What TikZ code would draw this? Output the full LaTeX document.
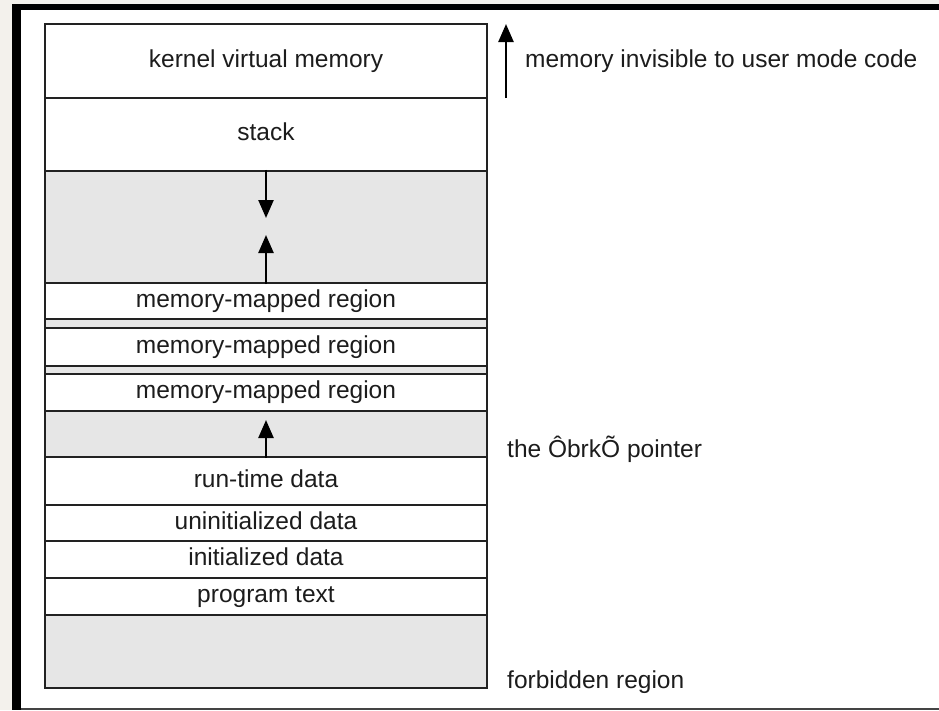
\documentclass[tikz,border=0pt]{standalone}
\usepackage{fontspec}
\setmainfont{Liberation Sans}
\usetikzlibrary{arrows.meta}
\definecolor{pagebg}{HTML}{F3F1EC}
\definecolor{regiongray}{HTML}{E6E6E6}
\definecolor{linegray}{HTML}{222222}
\definecolor{textgray}{HTML}{1C1C1C}
\definecolor{framegray}{HTML}{444444}
\begin{document}
\begin{tikzpicture}[x=1pt,y=-1pt,
  row/.style={draw=linegray, line width=2.4pt, minimum width=442pt, inner sep=0pt,
    text=textgray, font=\fontsize{24.5}{28}\selectfont, text height=17.5pt, text depth=5pt},
  whiterow/.style={row, fill=white},
  grayrow/.style={row, fill=regiongray},
  growth/.style={line width=2.4pt, draw=black, -{Triangle[length=18pt,width=15pt]}},
  sidelabel/.style={anchor=base west, inner sep=0pt, text=textgray, font=\fontsize{24.5}{28}\selectfont}]
% frame
\fill[pagebg] (0,0) rectangle (939,710);
\fill[white] (12,4) rectangle (939,710);
\fill[black] (12,4) rectangle (21,710);
\fill[black] (12,4) rectangle (939,9.5);
\fill[framegray] (21,707.5) rectangle (939,710);
\useasboundingbox (0,0) rectangle (939,710);
% rows
\node[whiterow, minimum height=74pt] (kernel) at (266,61) {kernel virtual memory};
\node[whiterow, minimum height=73pt] (stack) at (266,134.5) {stack};
\node[grayrow, minimum height=112pt] (gapA) at (266,227) {};
\node[whiterow, minimum height=36pt] (mmA) at (266,301) {memory-mapped region};
\node[grayrow, minimum height=9pt, text height=0pt, text depth=0pt] (stripA) at (266,323.5) {};
\node[whiterow, minimum height=38pt] (mmB) at (266,347) {memory-mapped region};
\node[grayrow, minimum height=8pt, text height=0pt, text depth=0pt] (stripB) at (266,370) {};
\node[whiterow, minimum height=37pt] (mmC) at (266,392.5) {memory-mapped region};
\node[grayrow, minimum height=46pt] (gapB) at (266,434) {};
\node[whiterow, minimum height=48pt] (runtime) at (266,481) {run-time data};
\node[whiterow, minimum height=36pt] (uninit) at (266,523) {uninitialized data};
\node[whiterow, minimum height=37pt] (init) at (266,559.5) {initialized data};
\node[whiterow, minimum height=37pt] (prog) at (266,596.5) {program text};
\node[grayrow, minimum height=73pt] (forbid) at (266,651.5) {};
% growth arrows
\coordinate (stacktip) at (266,218);
\coordinate (mmaptip) at (266,235);
\coordinate (brktip) at (266,420);
\draw[growth] (gapA.north) -- (stacktip);
\draw[growth] (gapA.south) -- (mmaptip);
\draw[growth] (gapB.south) -- (brktip);
% right side
\coordinate (invisbot) at (506,98);
\coordinate (invistop) at (506,24);
\draw[growth] (invisbot) -- (invistop);
\node[sidelabel] (invis) at (525,67) {memory invisible to user mode code};
\node[sidelabel] (brk) at (507,457) {the ÔbrkÕ pointer};
\node[sidelabel] (forbidlabel) at (507,688) {forbidden region};
\end{tikzpicture}
\end{document}
